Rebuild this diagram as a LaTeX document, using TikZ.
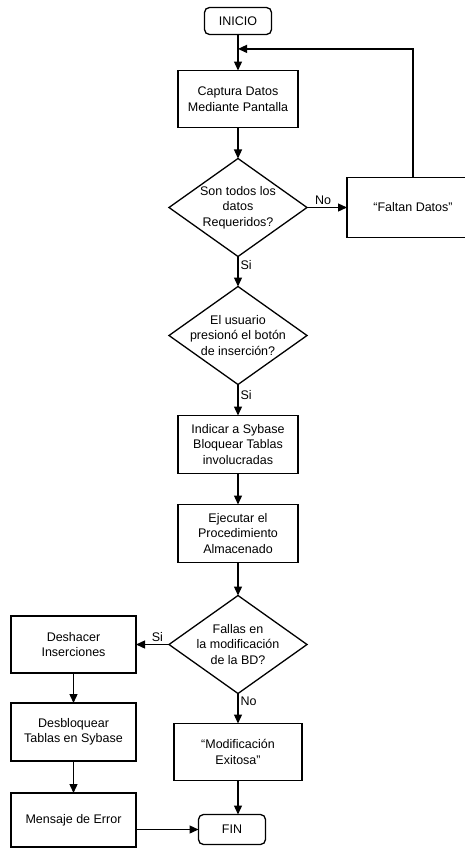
\documentclass[tikz,border=0pt]{standalone}
\usepackage{fontspec}
\setmainfont{Liberation Sans}
\usetikzlibrary{arrows.meta, positioning, shapes.geometric, calc}
\newcommand{\flowfont}{\fontsize{12.5}{15.5}\selectfont}
\tikzset{
  proc/.style ={rectangle, draw=black, line width=1.3pt, align=center,
                minimum width=120pt, minimum height=57pt, inner sep=2pt,
                outer sep=0pt, font=\flowfont},
  term/.style ={rectangle, rounded corners=5pt, draw=black, line width=1.3pt,
                align=center, minimum width=67pt, minimum height=27pt,
                outer sep=0pt, font=\flowfont},
  cond/.style ={diamond, aspect=1.4, draw=black, line width=1.3pt,
                align=center, minimum width=138pt, minimum height=98pt,
                inner sep=-12pt, outer sep=0pt, font=\flowfont},
  lbl/.style  ={font=\flowfont, inner sep=2pt},
  arr/.style  ={-{Triangle[length=9pt, width=8pt]}, line width=1.3pt}
}

\begin{document}
\begin{tikzpicture}[node distance=31pt and 38pt]
    \useasboundingbox (0pt,0pt) rectangle (465pt,-849pt);
    % main column
    \node[term] (inicio) at (238pt,-21pt) {INICIO};
    \node[proc, below=36pt of inicio] (captura) {Captura Datos\\Mediante Pantalla};
    \node[cond, below=of captura] (req) {Son todos los\\datos\\Requeridos?};
    \node[proc, right=40pt of req, minimum width=132pt, minimum height=60pt] (faltan) {``Faltan Datos''};
    \node[cond, below=30pt of req] (boton) {El usuario\\presionó el botón\\de inserción?};
    \node[proc, below=of boton, minimum height=58pt] (bloquear) {Indicar a Sybase\\Bloquear Tablas\\involucradas};
    \node[proc, below=of bloquear, minimum height=58pt] (ejecutar) {Ejecutar el\\Procedimiento\\Almacenado};
    \node[cond, below=33pt of ejecutar] (fallas) {Fallas en\\la modificación\\de la BD?};
    \node[proc, below=30pt of fallas, minimum width=128pt] (exito) {``Modificación\\Exitosa''};
    \node[term, below=34pt of exito, xshift=-6pt, minimum height=30pt] (fin) {FIN};
    % error branch
    \node[proc, left=33pt of fallas, minimum width=125pt] (deshacer) {Deshacer\\Inserciones};
    \node[proc, below=30pt of deshacer, minimum width=125pt, minimum height=58pt] (desbloq) {Desbloquear\\Tablas en Sybase};
    \node[proc, below=32pt of desbloq, minimum width=125pt, minimum height=54pt] (mensaje) {Mensaje de Error};

    \coordinate (retorno) at ($(inicio.south)!0.4!(captura.north)$);

    \draw[arr] (inicio) -- (captura);
    \draw[arr] (captura) -- (req);
    \draw[arr] (req) -- node[lbl, above, pos=0.4] {No} (faltan);
    \draw[arr] (faltan.north) |- (retorno);
    \draw[arr] (req) -- node[lbl, right, pos=0.3] {Si} (boton);
    \draw[arr] (boton) -- node[lbl, right, pos=0.35] {Si} (bloquear);
    \draw[arr] (bloquear) -- (ejecutar);
    \draw[arr] (ejecutar) -- (fallas);
    \draw[arr] (fallas) -- node[lbl, above, pos=0.35] {Si} (deshacer);
    \draw[arr] (fallas) -- node[lbl, right, pos=0.25] {No} (exito);
    \draw[arr] (exito) -- (exito |- fin.north);
    \draw[arr] (deshacer) -- (desbloq);
    \draw[arr] (desbloq) -- (mensaje);
    \draw[arr] (mensaje.east |- fin.west) -- (fin);
  \end{tikzpicture}
\end{document}
